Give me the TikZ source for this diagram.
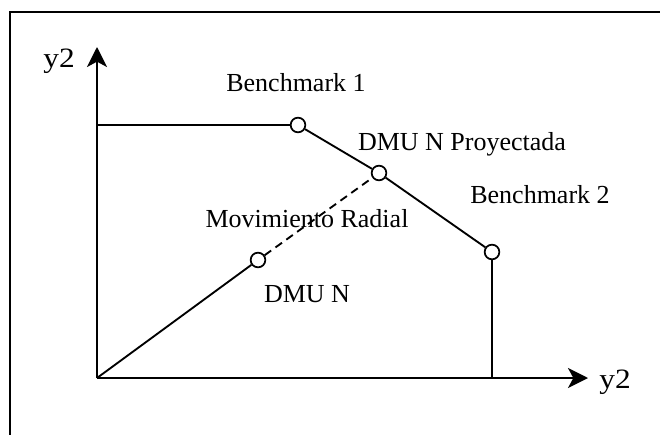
\documentclass[tikz,border=0pt]{standalone}
\usepackage{fontspec}
\setmainfont{Liberation Serif}
\usetikzlibrary{arrows.meta}
\begin{document}
\begin{tikzpicture}[x=0.75pt,y=-0.75pt,
  ln/.style={line width=1.4pt},
  dot/.style={circle,draw,line width=1.3pt,fill=white,inner sep=0pt,minimum size=11pt},
  lbl/.style={anchor=base,inner sep=0pt,font=\fontsize{19.5}{23}\selectfont},
  axlbl/.style={anchor=base,inner sep=0pt,font=\fontsize{21}{25}\selectfont},
  axarrow/.style={ln,-{Stealth[length=15pt,width=15pt,inset=4pt]}}]
\useasboundingbox (0,0) rectangle (660,435);
\draw[line width=1.5pt] (10,435) -- (10,12) -- (660,12);
\coordinate (o) at (97,378);
\coordinate (ytip) at (97,47);
\coordinate (xtip) at (588,378);
\coordinate (h) at (97,125);
\coordinate (f) at (492,378);
\node[dot] (b1) at (298,125) {};
\node[dot] (p) at (379,173) {};
\node[dot] (b2) at (492,252) {};
\node[dot] (d) at (258,260) {};
\draw[axarrow] (o) -- (ytip);
\draw[axarrow] (o) -- (xtip);
\draw[ln] (h) -- (b1);
\draw[ln] (b1) -- (p);
\draw[ln] (p) -- (b2);
\draw[ln] (b2) -- (f);
\draw[ln] (o) -- (d);
\draw[ln,dash pattern=on 6pt off 4pt] (d) -- (p);
\node[axlbl] (ly) at (59,68) {\scalebox{1.12}[1]{y2}};
\node[axlbl] (lx) at (615,388) {\scalebox{1.12}[1]{y2}};
\node[lbl] (lb1) at (296,91) {Benchmark 1};
\node[lbl] (lp) at (462,150) {DMU N Proyectada};
\node[lbl] (lb2) at (540,203) {Benchmark 2};
\node[lbl] (lm) at (307,227) {Movimiento Radial};
\node[lbl] (ld) at (307,302) {DMU N};
\end{tikzpicture}
\end{document}
